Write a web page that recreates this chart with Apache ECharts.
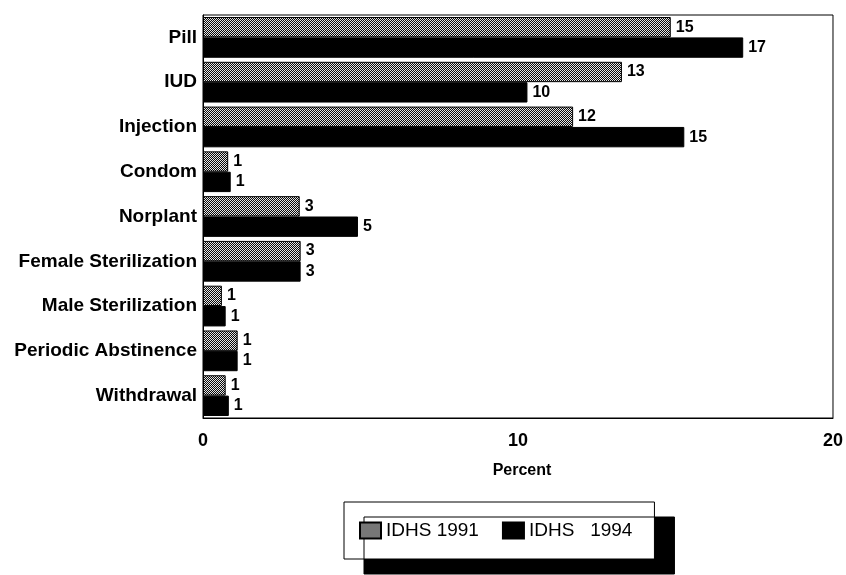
<!DOCTYPE html>
<html>
<head>
<meta charset="utf-8">
<script src="https://cdn.jsdelivr.net/npm/echarts@6/dist/echarts.min.js"></script>
<style>
html,body{margin:0;padding:0;background:#fff;}
#chart{width:846px;height:575px;}
</style>
</head>
<body>
<div id="chart"></div>
<script>
var categories = ['Pill', 'IUD', 'Injection', 'Condom', 'Norplant', 'Female Sterilization', 'Male Sterilization', 'Periodic Abstinence', 'Withdrawal'];
var values1991 = [14.85, 13.3, 11.75, 0.8, 3.07, 3.1, 0.6, 1.1, 0.72];
var values1994 = [17.15, 10.3, 15.28, 0.88, 4.92, 3.1, 0.72, 1.1, 0.82];
var labels1991 = ['15', '13', '12', '1', '3', '3', '1', '1', '1'];
var labels1994 = ['17', '10', '15', '1', '5', '3', '1', '1', '1'];
var seriesNames = ['IDHS 1991', 'IDHS   1994'];
var xTicks = [0, 10, 20];

function makePattern() {
  var c = document.createElement('canvas');
  c.width = 2; c.height = 2;
  var ctx = c.getContext('2d');
  ctx.fillStyle = '#0a0a0a';
  ctx.fillRect(0, 0, 2, 2);
  ctx.fillStyle = '#e4e4e4';
  ctx.fillRect(0, 0, 1, 1);
  ctx.fillRect(1, 1, 1, 1);
  return c;
}
var pattern = { image: makePattern(), repeat: 'repeat' };
var FONT = "'Liberation Sans', Arial, sans-serif";

var chart = echarts.init(document.getElementById('chart'), null, { renderer: 'canvas' });
chart.setOption({
  animation: false,
  backgroundColor: '#fff',
  grid: {
    left: 203, right: 12, top: 15, bottom: 157,
    show: true, borderColor: '#000', borderWidth: 1, backgroundColor: 'transparent'
  },
  legend: {
    left: 344, top: 502,
    padding: [19, 22, 19, 15],
    itemWidth: 21, itemHeight: 16, itemGap: 23,
    icon: 'rect',
    backgroundColor: '#fff',
    borderColor: '#000', borderWidth: 1,
    shadowColor: '#000', shadowBlur: 0, shadowOffsetX: 20, shadowOffsetY: 15,
    textStyle: { fontFamily: FONT, fontSize: 19, color: '#000' },
    data: seriesNames
  },
  xAxis: {
    type: 'value', min: xTicks[0], max: xTicks[xTicks.length - 1], interval: xTicks[1] - xTicks[0],
    name: 'Percent', nameLocation: 'middle', nameGap: 45,
    nameTextStyle: { fontFamily: FONT, fontSize: 16, fontWeight: 'bold', color: '#000', padding: [0, 0, 0, 8] },
    axisLine: { show: true, lineStyle: { color: '#000', width: 1 } },
    axisTick: { show: false },
    splitLine: { show: false },
    axisLabel: { fontFamily: FONT, fontSize: 18, fontWeight: 'bold', color: '#000', margin: 14 }
  },
  yAxis: {
    type: 'category', data: categories, inverse: true,
    axisLine: { show: true, lineStyle: { color: '#000', width: 1 } },
    axisTick: { show: false },
    axisLabel: { fontFamily: FONT, fontSize: 19, fontWeight: 'bold', color: '#000', margin: 6 }
  },
  series: [
    {
      name: seriesNames[0], type: 'bar', data: values1991,
      barGap: '0%', barCategoryGap: '9%',
      itemStyle: { color: pattern, borderColor: '#000', borderWidth: 1 },
      label: { show: true, position: 'right', distance: 5, fontFamily: FONT, fontSize: 16, fontWeight: 'bold', color: '#000',
        formatter: function (p) { return labels1991[p.dataIndex]; } }
    },
    {
      name: seriesNames[1], type: 'bar', data: values1994,
      barGap: '0%', barCategoryGap: '9%',
      itemStyle: { color: '#000', borderColor: '#000', borderWidth: 1 },
      label: { show: true, position: 'right', distance: 5, fontFamily: FONT, fontSize: 16, fontWeight: 'bold', color: '#000',
        formatter: function (p) { return labels1994[p.dataIndex]; } }
    }
  ]
});
</script>
</body>
</html>
